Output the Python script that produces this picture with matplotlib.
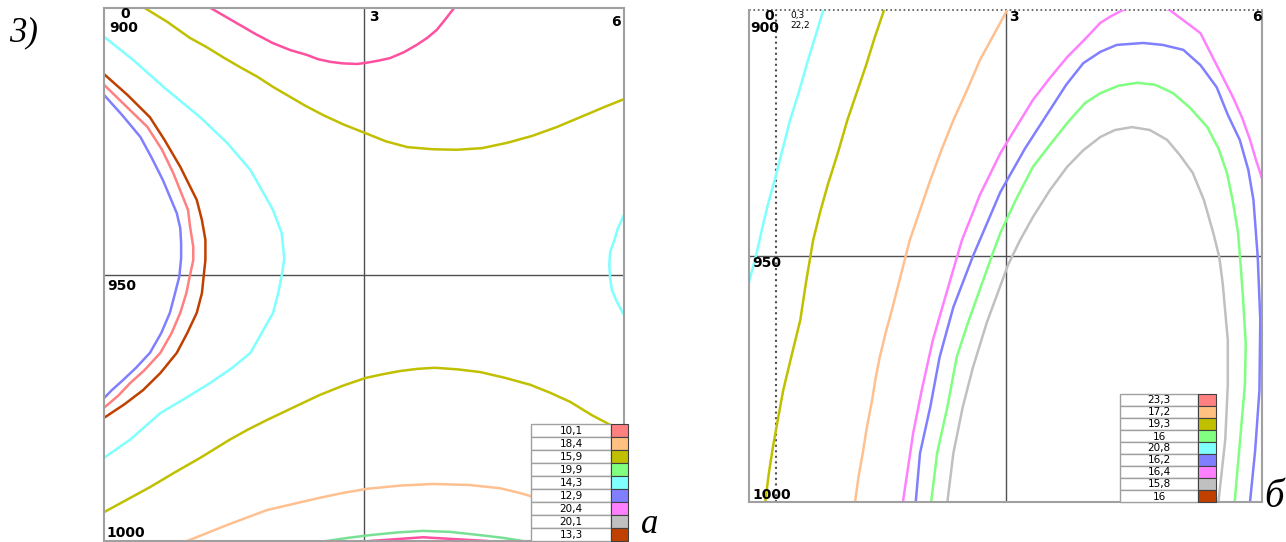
import matplotlib.pyplot as plt
from matplotlib.patches import Rectangle

W, H = 1286, 542

# ---- chart "а": isolines (x 0..6, depth 900..1000) ----
a_pink_top_x = [1.23, 1.41, 1.57, 1.75, 1.95, 2.15, 2.34, 2.47, 2.61, 2.76, 2.92, 3.02, 3.16,
                3.30, 3.46, 3.61, 3.73, 3.84, 3.93, 4.04]
a_pink_top_y = [900.0, 901.7, 903.2, 904.9, 906.6, 907.9, 908.8, 909.6, 910.1, 910.4, 910.5, 910.3, 909.9,
                909.4, 908.3, 906.9, 905.6, 904.1, 902.3, 900.0]

a_olive_top_x = [0.47, 0.73, 0.99, 1.18, 1.37, 1.57, 1.77, 1.95, 2.15, 2.33, 2.53, 2.77, 3.02,
                 3.25, 3.50, 3.79, 4.07, 4.36, 4.65, 4.94, 5.23, 5.42, 5.61, 5.80, 6.0]
a_olive_top_y = [900.0, 902.6, 905.6, 907.3, 909.2, 911.1, 912.9, 914.8, 916.7, 918.4, 920.1, 921.9, 923.5,
                 925.0, 926.1, 926.5, 926.6, 926.3, 925.3, 924.0, 922.3, 921.0, 919.7, 918.4, 917.1]

a_cyan_x = [0.0, 0.34, 0.70, 1.11, 1.42, 1.69, 1.95, 2.05, 2.08, 2.05, 2.01, 1.95, 1.69,
            1.48, 1.22, 0.94, 0.65, 0.30, 0.0]
a_cyan_y = [905.4, 909.8, 915.0, 920.5, 925.3, 930.4, 937.9, 942.2, 947.0, 950.3, 953.5, 957.2, 964.7,
            967.5, 970.4, 973.2, 976.0, 981.0, 984.4]

a_red_x = [0.0, 0.27, 0.53, 0.70, 0.88, 1.07, 1.13, 1.17, 1.17, 1.15, 1.13, 1.07, 0.96,
           0.84, 0.65, 0.45, 0.24, 0.0]
a_red_y = [912.4, 916.3, 920.5, 924.8, 929.8, 936.0, 939.8, 943.5, 947.3, 950.3, 953.5, 957.2, 961.0,
           964.7, 968.5, 971.7, 974.3, 976.9]

a_salmon_x = [0.0, 0.24, 0.50, 0.67, 0.80, 0.97, 0.99, 1.03, 1.03, 0.99, 0.95, 0.88, 0.78,
              0.65, 0.47, 0.30, 0.16, 0.0]
a_salmon_y = [914.4, 918.2, 922.3, 926.6, 931.0, 937.9, 940.7, 944.8, 947.3, 950.3, 953.5, 957.2, 961.0,
              964.7, 967.9, 970.4, 972.8, 975.0]

a_blue_x = [0.0, 0.21, 0.42, 0.55, 0.68, 0.84, 0.88, 0.89, 0.89, 0.87, 0.82, 0.76, 0.66,
            0.53, 0.37, 0.22, 0.09, 0.0]
a_blue_y = [916.3, 920.1, 924.2, 928.1, 932.3, 938.5, 941.3, 944.1, 946.9, 950.3, 953.5, 957.2, 961.0,
            964.7, 967.5, 969.8, 971.7, 973.2]

a_olive_low_x = [0.0, 0.27, 0.53, 0.82, 1.11, 1.45, 1.66, 1.88, 2.19, 2.49, 2.75, 3.02, 3.22,
                 3.42, 3.62, 3.82, 4.08, 4.34, 4.63, 4.92, 5.15, 5.38, 5.63, 5.84, 6.0]
a_olive_low_y = [994.6, 992.2, 989.9, 987.1, 984.4, 981.0, 979.1, 977.3, 974.9, 972.6, 970.9, 969.4, 968.7,
                 968.1, 967.7, 967.5, 967.8, 968.3, 969.4, 970.7, 972.2, 973.9, 976.4, 978.2, 979.5]

a_peach_x = [0.96, 1.42, 1.65, 1.88, 2.46, 2.75, 3.04, 3.42, 3.80, 4.22, 4.57, 4.80, 5.03, 5.43, 5.84, 6.0]
a_peach_y = [1000.0, 997.0, 995.6, 994.2, 992.0, 991.0, 990.2, 989.6, 989.3, 989.5, 990.1, 991.0, 992.1,
             994.1, 996.1, 997.0]

a_green_x = [2.57, 2.82, 3.07, 3.38, 3.68, 4.00, 4.34, 4.60, 4.83]
a_green_y = [1000.0, 999.4, 998.9, 998.4, 998.1, 998.3, 998.9, 999.4, 1000.0]

a_pink_low_x = [3.07, 3.68, 4.42]
a_pink_low_y = [1000.0, 999.3, 1000.0]

a_cyan_right_x = [6.0, 5.93, 5.89, 5.84, 5.83, 5.84, 5.86, 5.92, 6.0]
a_cyan_right_y = [938.8, 941.3, 943.5, 945.8, 948.2, 950.7, 952.9, 955.2, 957.6]

a_legend_values = ['10,1', '18,4', '15,9', '19,9', '14,3', '12,9', '20,4', '20,1', '13,3']

# ---- chart "б" ----
b_cyan_x = [0.87, 0.78, 0.69, 0.59, 0.48, 0.39, 0.30, 0.22, 0.15, 0.11, 0.07, 0.035, 0.0]
b_cyan_y = [900.0, 905.1, 910.2, 916.3, 922.4, 928.5, 934.6, 939.6, 944.7, 947.8, 950.8, 953.0, 955.3]

b_olive_x = [1.58, 1.47, 1.37, 1.26, 1.15, 1.04, 0.92, 0.83, 0.75, 0.67, 0.60, 0.50, 0.40,
             0.34, 0.28, 0.23, 0.19]
b_olive_y = [900.0, 905.6, 911.2, 916.8, 922.4, 929.0, 935.6, 941.2, 946.8, 955.0, 963.0, 970.1, 977.3,
             983.0, 988.8, 994.4, 1000.0]

b_peach_x = [3.02, 2.86, 2.70, 2.55, 2.39, 2.25, 2.12, 2.00, 1.88, 1.78, 1.68, 1.60, 1.53,
             1.48, 1.44, 1.38, 1.33, 1.28, 1.24]
b_peach_y = [900.0, 905.1, 910.2, 916.3, 922.4, 928.5, 934.6, 940.7, 946.8, 953.6, 960.4, 965.5, 970.5,
             974.9, 979.3, 984.7, 990.1, 995.0, 1000.0]

b_magenta_x = [1.80, 1.92, 2.02, 2.15, 2.32, 2.49, 2.70, 2.94, 3.14, 3.32, 3.52, 3.72, 3.92,
               4.11, 4.22, 4.37, 4.66, 4.92, 5.28, 5.47, 5.66, 5.77, 5.86, 5.93, 6.0]
b_magenta_y = [1000.0, 986.0, 977.3, 967.1, 956.9, 946.8, 937.6, 929.1, 923.4, 918.3, 913.8, 909.6, 906.1,
               902.6, 901.4, 900.0, 898.8, 900.0, 904.7, 911.2, 917.7, 922.0, 926.4, 930.5, 934.2]

b_blue_x = [1.95, 2.00, 2.12, 2.23, 2.39, 2.62, 2.94, 3.23, 3.52, 3.71, 3.91, 4.11, 4.30, 4.61,
            4.84, 5.08, 5.28, 5.47, 5.60, 5.74, 5.84, 5.90, 5.95, 5.98, 5.97, 5.92, 5.86]
b_blue_y = [1000.0, 990.1, 980.7, 970.5, 960.4, 950.0, 937.0, 928.1, 920.3, 915.2, 910.8, 908.5, 907.1, 906.7,
            907.1, 908.1, 911.2, 915.7, 921.3, 926.4, 932.5, 938.6, 950.2, 963.0, 977.3, 989.5, 1000.0]

b_green_x = [2.13, 2.20, 2.32, 2.43, 2.56, 2.84, 2.94, 3.12, 3.32, 3.52, 3.72, 3.93, 4.11, 4.32,
             4.54, 4.75, 4.96, 5.16, 5.36, 5.49, 5.59, 5.66, 5.72, 5.75, 5.78, 5.81, 5.80, 5.68]
b_green_y = [1000.0, 990.1, 980.7, 970.5, 963.6, 950.0, 945.3, 938.6, 931.9, 927.4, 923.0, 918.9, 916.9, 915.4,
             914.8, 915.2, 916.9, 919.9, 923.8, 928.1, 933.1, 939.0, 945.3, 951.8, 959.0, 967.9, 976.2, 1000.0]

b_gray_x = [2.32, 2.39, 2.50, 2.62, 2.78, 3.03, 3.17, 3.32, 3.52, 3.72, 3.91, 4.11, 4.28, 4.48,
            4.69, 4.89, 5.04, 5.19, 5.32, 5.43, 5.50, 5.54, 5.60, 5.60, 5.57, 5.49]
b_gray_y = [1000.0, 990.1, 980.7, 972.6, 963.6, 951.8, 946.8, 942.1, 936.6, 931.9, 928.5, 925.8, 924.4, 923.8,
            924.4, 926.4, 929.5, 933.1, 938.6, 945.3, 950.2, 955.5, 967.1, 976.2, 987.4, 1000.0]

b_legend_values = ['23,3', '17,2', '19,3', '16', '20,8', '16,2', '16,4', '15,8', '16']
b_cursor = (0.32, 22.2)

legend_colors = ['#ff8080', '#ffc080', '#c0c000', '#80ff80', '#80ffff',
                 '#8080ff', '#ff80ff', '#c0c0c0', '#c04000']

fig = plt.figure(figsize=(W / 100, H / 100), dpi=100)


def px_axes(x0, y0, x1, y1):
    return fig.add_axes([x0 / W, 1 - y1 / H, (x1 - x0) / W, (y1 - y0) / H])


def px_text(x, y, s, **kw):
    fig.text(x / W, 1 - y / H, s, **kw)


def setup(ax):
    ax.set_xlim(0, 6)
    ax.set_ylim(1000, 900)
    ax.set_xticks([])
    ax.set_yticks([])
    for sp in ax.spines.values():
        sp.set_color('#a0a0a0')
        sp.set_linewidth(1.5)
    ax.axvline(3, color='#505050', lw=1, zorder=1)
    ax.axhline(950, color='#505050', lw=1, zorder=1)


lw = 1.8
ax_a = px_axes(104, 8, 624, 541)
setup(ax_a)
ax_a.plot(a_pink_top_x, a_pink_top_y, color='#ff50a0', lw=lw)
ax_a.plot(a_olive_top_x, a_olive_top_y, color='#c0c000', lw=lw)
ax_a.plot(a_cyan_x, a_cyan_y, color='#80ffff', lw=lw)
ax_a.plot(a_red_x, a_red_y, color='#c04000', lw=lw)
ax_a.plot(a_salmon_x, a_salmon_y, color='#ff8080', lw=lw)
ax_a.plot(a_blue_x, a_blue_y, color='#8080ff', lw=lw)
ax_a.plot(a_olive_low_x, a_olive_low_y, color='#c0c000', lw=lw)
ax_a.plot(a_peach_x, a_peach_y, color='#ffc090', lw=lw)
ax_a.plot(a_green_x, a_green_y, color='#78e095', lw=lw)
ax_a.plot(a_pink_low_x, a_pink_low_y, color='#ff50a0', lw=lw)
ax_a.plot(a_cyan_right_x, a_cyan_right_y, color='#80ffff', lw=lw)

ax_b = px_axes(749, 10, 1262, 502)
setup(ax_b)
ax_b.spines['top'].set_visible(False)
ax_b.axhline(900, color='#505050', lw=1.2, ls=':', clip_on=False)
ax_b.axvline(b_cursor[0], color='#505050', lw=1.5, ls=':')
ax_b.plot(b_cyan_x, b_cyan_y, color='#80ffff', lw=lw)
ax_b.plot(b_olive_x, b_olive_y, color='#c0c000', lw=lw)
ax_b.plot(b_peach_x, b_peach_y, color='#ffc090', lw=lw)
ax_b.plot(b_magenta_x, b_magenta_y, color='#ff80ff', lw=lw)
ax_b.plot(b_blue_x, b_blue_y, color='#8080ff', lw=lw)
ax_b.plot(b_green_x, b_green_y, color='#80ff80', lw=lw)
ax_b.plot(b_gray_x, b_gray_y, color='#c0c0c0', lw=lw)

# axis labels as drawn by the program
bold = dict(fontsize=10, fontweight='bold', family='DejaVu Sans', va='baseline')
px_text(125, 18, '0', ha='center', **bold)
px_text(124, 32, '900', ha='center', **bold)
px_text(369, 21, '3', ha='left', **bold)
px_text(621, 26, '6', ha='right', **bold)
px_text(107, 290, '950', ha='left', **bold)
px_text(106, 537, '1000', ha='left', **bold)

px_text(774, 20, '0', ha='right', **bold)
px_text(765, 32, '900', ha='center', **bold)
px_text(1009, 21, '3', ha='left', **bold)
px_text(1262, 21, '6', ha='right', **bold)
px_text(752, 267, '950', ha='left', **bold)
px_text(752, 499, '1000', ha='left', **bold)
px_text(790, 18, f'{b_cursor[0]:.1f}'.replace('.', ','), fontsize=6.5, ha='left', va='baseline')
px_text(790, 28, f'{b_cursor[1]:.1f}'.replace('.', ','), fontsize=6.5, ha='left', va='baseline')


def draw_legend(x0, x1, x2, y0, row_h, values):
    for i, (v, c) in enumerate(zip(values, legend_colors)):
        top = y0 + i * row_h
        fig.add_artist(Rectangle((x0 / W, 1 - (top + row_h) / H), (x1 - x0) / W, row_h / H,
                                 transform=fig.transFigure, facecolor='white',
                                 edgecolor='#a0a0a0', lw=1))
        fig.add_artist(Rectangle((x1 / W, 1 - (top + row_h) / H), (x2 - x1) / W, row_h / H,
                                 transform=fig.transFigure, facecolor=c,
                                 edgecolor='#404040', lw=0.8))
        px_text((x0 + x1) / 2, top + row_h / 2 + 0.5, v, fontsize=7.5, ha='center', va='center')


draw_legend(531, 611, 628, 424, 13, a_legend_values)
draw_legend(1120, 1198, 1216, 394, 12, b_legend_values)

serif = dict(family='Liberation Serif', style='italic')
px_text(9, 41, '3)', fontsize=25, ha='left', va='baseline', **serif)
px_text(641, 541, 'а', fontsize=25, ha='left', va='bottom', **serif)
px_text(1264, 507, 'б', fontsize=28, ha='left', va='baseline', **serif)

fig.savefig('out.png', dpi=100)
